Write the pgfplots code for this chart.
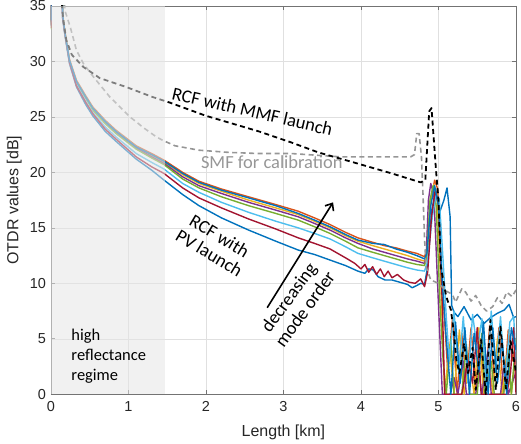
\documentclass[border=0pt]{standalone}
\usepackage{fontspec}
\setmainfont{Liberation Sans}
\newfontfamily\calfont{Carlito}
\usepackage{pgfplots}
\pgfplotsset{compat=1.18}
\usetikzlibrary{arrows.meta}
\definecolor{m1}{RGB}{0,114,189}
\definecolor{m2}{RGB}{217,83,25}
\definecolor{m3}{RGB}{237,177,32}
\definecolor{m4}{RGB}{126,47,142}
\definecolor{m5}{RGB}{119,172,48}
\definecolor{m6}{RGB}{77,190,238}
\definecolor{m7}{RGB}{162,20,47}
\definecolor{smfgray}{RGB}{150,150,150}
\begin{document}
\begin{tikzpicture}
\begin{axis}[
  scale only axis, width=466pt, height=389pt,
  xmin=0, xmax=6, ymin=0, ymax=35,
  xtick={0,1,2,3,4,5,6}, ytick={0,5,10,15,20,25,30,35},
  grid=major, grid style={black!12, line width=0.5pt},
  axis line style={black!55, line width=0.6pt},
  tick align=inside, major tick length=4pt, tick style={black!55, line width=0.6pt},
  ticklabel style={font=\fontsize{14.5}{16}\selectfont, text=black!85},
  xticklabel style={yshift=-4pt},
  yticklabel style={xshift=-1.5pt},
  /pgf/number format/assume math mode=true,
  xlabel={Length [km]}, ylabel={OTDR values [dB]},
  label style={font=\fontsize{16}{18}\selectfont, text=black!85},
  xlabel style={at={(axis description cs:0.5,-0.098)}, anchor=center},
  ylabel style={at={(axis description cs:-0.079,0.5)}, anchor=center},
  every axis plot/.append style={line width=1.4pt, line join=round},
]
% lower blue
\addplot[m1] coordinates {(0,33.2)(0.004,40)(0.13,40)(0.15,34)(0.18,32.4)(0.24,29.8)(0.33,27.7)(0.45,26.1)(0.54,25.1)(0.7,23.7)(0.84,22.8)(1.1,21.2)(1.3,20.2)(1.46,19.3)(1.7,18.0)(1.91,17.0)(2.2,15.9)(2.55,14.8)(2.9,13.8)(3.19,13.0)(3.4,12.6)(3.6,12.1)(3.8,11.6)(3.96,11.1)(4.05,10.9)(4.1,11.3)(4.16,11.2)(4.22,10.6)(4.31,10.3)(4.4,10.3)(4.5,10.1)(4.6,9.9)(4.66,9.6)(4.72,9.8)(4.77,10.0)(4.82,9.9)(4.86,11.5)(4.91,16.5)(4.96,18.2)(5.02,16.5)(5.07,17.5)(5.11,18.6)(5.15,16)(5.17,8)(5.2,7.4)(5.25,7.0)(5.33,7.9)(5.42,6.7)(5.5,7.2)(5.59,6.4)(5.67,6.9)(5.76,7.3)(5.85,7.6)(5.91,8.1)(5.97,6.9)(6,7.0)};
% orange
\addplot[m2] coordinates {(0,33.6)(0.004,40)(0.13,40)(0.155,34)(0.18,32.7)(0.24,30.2)(0.33,28.3)(0.45,26.9)(0.54,25.9)(0.7,24.7)(0.84,23.8)(1.1,22.4)(1.3,21.7)(1.46,21.1)(1.7,20.0)(1.91,19.2)(2.2,18.5)(2.55,17.8)(2.9,17.1)(3.19,16.5)(3.4,15.9)(3.6,15.3)(3.8,14.6)(3.96,14.1)(4.15,13.7)(4.3,13.4)(4.45,13.2)(4.6,12.9)(4.72,12.7)(4.82,12.4)(4.85,13)(4.9,17.5)(4.95,19.3)(4.99,18.5)(5.03,12)(5.08,6.5)(5.12,2)(5.18,6.8)(5.24,0)(5.3,5.5)(5.36,1)(5.42,6)(5.48,0.5)(5.54,5)(5.6,0)(5.66,6.2)(5.72,1.5)(5.78,6)(5.84,0)(5.9,5.8)(5.96,3)(6,5)};
% yellow
\addplot[m3] coordinates {(0,33.4)(0.004,40)(0.13,40)(0.155,34)(0.18,32.7)(0.24,30.1)(0.33,28.2)(0.45,26.8)(0.54,25.8)(0.7,24.6)(0.84,23.7)(1.1,22.3)(1.3,21.5)(1.46,20.9)(1.7,19.8)(1.91,19.0)(2.2,18.3)(2.55,17.5)(2.9,16.8)(3.19,16.2)(3.4,15.6)(3.6,15.0)(3.8,14.3)(3.96,13.8)(4.15,13.4)(4.3,13.1)(4.45,12.8)(4.6,12.5)(4.72,12.2)(4.82,12.0)(4.86,13)(4.9,17.5)(4.94,18.9)(4.98,18)(5.03,10)(5.08,0)(5.14,4.5)(5.2,0)(5.27,5.8)(5.33,0)(5.4,3)(5.46,0)(5.52,6)(5.58,0)(5.64,4)(5.7,0)(5.76,5)(5.82,0)(5.88,3.5)(5.94,0)(6,4)};
% purple
\addplot[m4] coordinates {(0,33.3)(0.004,40)(0.13,40)(0.155,34)(0.18,32.6)(0.24,30.0)(0.33,28.1)(0.45,26.7)(0.54,25.7)(0.7,24.5)(0.84,23.6)(1.1,22.2)(1.3,21.4)(1.46,20.8)(1.7,19.6)(1.91,18.8)(2.2,18.1)(2.55,17.3)(2.9,16.6)(3.19,16.0)(3.4,15.4)(3.6,14.8)(3.8,14.1)(3.96,13.6)(4.15,13.1)(4.3,12.8)(4.45,12.5)(4.6,12.2)(4.72,12.0)(4.82,11.8)(4.84,12.3)(4.87,17.5)(4.9,19.0)(4.94,18)(5.0,8)(5.05,0)(5.15,0)(5.2,1.5)(5.25,0)(5.32,3)(5.36,0)(5.48,0)(5.52,2)(5.56,0)(5.64,4)(5.68,0)(5.8,0)(5.85,3)(5.9,0)(6,2)};
% green
\addplot[m5] coordinates {(0,32.9)(0.004,40)(0.13,40)(0.155,34)(0.18,32.6)(0.24,30.0)(0.33,28.1)(0.45,26.7)(0.54,25.6)(0.7,24.4)(0.84,23.5)(1.1,22.1)(1.3,21.3)(1.46,20.7)(1.7,19.4)(1.91,18.6)(2.2,17.8)(2.55,17.0)(2.9,16.3)(3.19,15.7)(3.4,15.1)(3.6,14.5)(3.8,13.8)(3.96,13.2)(4.15,12.8)(4.3,12.5)(4.45,12.2)(4.6,11.9)(4.72,11.7)(4.82,11.6)(4.85,12.5)(4.89,17.5)(4.93,18.8)(4.97,17)(5.02,8)(5.06,3)(5.1,0)(5.16,5)(5.2,0)(5.3,0)(5.36,4.5)(5.4,0)(5.5,0)(5.56,5.5)(5.6,0)(5.68,3)(5.72,0)(5.84,0)(5.9,4)(5.94,0)(6,5)};
% light blue
\addplot[m6] coordinates {(0,33.5)(0.004,40)(0.13,40)(0.15,34)(0.18,32.5)(0.24,29.9)(0.33,27.9)(0.45,26.4)(0.54,25.4)(0.7,24.1)(0.84,23.2)(1.1,21.7)(1.3,20.9)(1.46,20.3)(1.7,19.0)(1.91,18.2)(2.2,17.3)(2.55,16.4)(2.9,15.6)(3.19,15.0)(3.4,14.5)(3.6,14.0)(3.8,13.3)(3.96,12.7)(4.15,12.3)(4.3,12.0)(4.45,11.7)(4.6,11.4)(4.72,11.2)(4.82,11.1)(4.86,12)(4.92,16)(4.97,18.0)(5.01,17.6)(5.06,12)(5.1,7)(5.14,3)(5.2,7.5)(5.26,2)(5.32,7)(5.38,1)(5.44,7.2)(5.5,4)(5.56,6.8)(5.62,0)(5.68,7.5)(5.74,2)(5.8,7)(5.86,1)(5.92,6.5)(5.97,7)(6,3)};
% red
\addplot[m7] coordinates {(0,33.0)(0.004,40)(0.13,40)(0.15,34)(0.18,32.5)(0.24,29.9)(0.33,27.8)(0.45,26.3)(0.54,25.3)(0.7,23.9)(0.84,23.0)(1.1,21.4)(1.3,20.5)(1.46,19.9)(1.7,18.6)(1.91,17.7)(2.2,16.8)(2.55,15.8)(2.9,14.9)(3.19,14.1)(3.4,13.6)(3.6,13.1)(3.8,12.3)(3.92,11.8)(4.0,11.3)(4.05,11.7)(4.1,11.0)(4.15,11.5)(4.2,10.8)(4.25,11.3)(4.3,10.6)(4.35,11.1)(4.4,10.5)(4.47,10.8)(4.55,10.3)(4.62,10.1)(4.7,10.0)(4.77,10.4)(4.82,9.7)(4.86,11)(4.91,16)(4.96,18.5)(5.0,17)(5.05,8)(5.08,0)(5.3,0)(5.38,3)(5.44,1)(5.5,6)(5.55,0)(5.88,0)(5.93,2)(5.97,6)(6,0)};
% upper blue
\addplot[m1] coordinates {(0,33.7)(0.004,40)(0.13,40)(0.155,34)(0.18,32.6)(0.24,30.1)(0.33,28.2)(0.45,26.8)(0.54,25.8)(0.7,24.6)(0.84,23.7)(1.1,22.3)(1.3,21.6)(1.46,21.0)(1.7,19.9)(1.91,19.1)(2.2,18.4)(2.55,17.7)(2.9,17.0)(3.19,16.3)(3.4,15.7)(3.6,15.1)(3.8,14.4)(3.96,13.9)(4.15,13.6)(4.3,13.5)(4.45,13.1)(4.6,12.8)(4.72,12.5)(4.82,12.2)(4.85,12.7)(4.9,17)(4.95,18.8)(5.0,17)(5.05,10)(5.1,5)(5.16,0)(5.22,6.5)(5.28,1)(5.34,6)(5.4,0)(5.46,5.5)(5.52,2)(5.58,6.5)(5.64,0)(5.7,6)(5.76,1)(5.82,5)(5.88,0)(5.94,6)(6,4)};
% SMF for calibration
\addplot[smfgray, line width=1.6pt, dash pattern=on 5pt off 3.5pt] coordinates {(0.17,36)(0.18,34.6)(0.25,33.1)(0.33,31.0)(0.42,29.8)(0.55,28.6)(0.76,26.8)(1.02,25.0)(1.2,24.0)(1.36,23.2)(1.44,22.9)(1.6,22.4)(1.91,22.0)(2.3,21.8)(2.68,21.7)(3.1,21.7)(3.74,21.4)(4.2,21.4)(4.64,21.4)(4.69,21.6)(4.72,23.5)(4.75,23.5)(4.78,21.4)(4.8,18)(4.82,14)(4.84,11.5)(4.9,10.3)(5.0,10.0)(5.1,9.3)(5.18,9.0)(5.22,8.3)(5.3,9.5)(5.35,9.2)(5.42,8.4)(5.48,8.9)(5.55,8.0)(5.62,7.5)(5.7,7.9)(5.76,8.7)(5.82,8.2)(5.88,9.2)(5.95,8.8)(6,9.4)};
% RCF with MMF launch
\addplot[black, line width=1.8pt, dash pattern=on 5pt off 3.5pt] coordinates {(0.13,36)(0.16,33.7)(0.2,31.9)(0.27,30.6)(0.42,29.5)(0.63,28.5)(0.97,27.7)(1.31,26.8)(1.53,26.3)(2.0,25.1)(2.68,23.7)(3.1,22.7)(3.45,21.8)(3.93,20.85)(4.4,19.9)(4.77,19.1)(4.83,19.3)(4.88,25.5)(4.91,25.8)(4.97,20)(5.0,17.5)(5.03,11.5)(5.1,8.8)(5.16,7.6)(5.2,5.5)(5.23,3.1)(5.27,1.9)(5.33,4.6)(5.38,1.9)(5.44,4.2)(5.48,0.4)(5.55,4.9)(5.61,0)(5.67,6.7)(5.74,0.4)(5.8,6.1)(5.87,0.5)(5.93,4.8)(6,2)};
% shaded high reflectance regime
\addplot[draw=none, fill=black!10, fill opacity=0.55] coordinates {(0,0)(1.47,0)(1.47,35)(0,35)} -- cycle;
% annotations
\node[font=\calfont\fontsize{18.5}{21}\selectfont, rotate=-13] at (axis cs:2.6,25.5) {RCF with MMF launch};
\node[font=\calfont\fontsize{18.5}{21}\selectfont, text=smfgray] at (axis cs:2.85,20.9) {SMF for calibration};
\node[font=\calfont\fontsize{18.5}{20}\selectfont, rotate=-31, align=center] at (axis cs:2.11,13.5) {RCF with\\PV launch};
\node[font=\calfont\fontsize{18.5}{20}\selectfont, rotate=54, align=center] at (axis cs:3.17,8.2) {decreasing\\mode order};
\node[font=\calfont\fontsize{16.5}{20}\selectfont, align=left, anchor=west] at (axis cs:0.22,3.4) {high\\reflectance\\regime};
\draw[-{Straight Barb[length=6pt,width=10pt]}, line width=1.6pt] (axis cs:2.79,7.8) -- (axis cs:3.64,17.3);
\end{axis}
\pgfresetboundingbox
\path[use as bounding box] ([shift={(-51pt,-49pt)}]current axis.south west) rectangle ([shift={(5pt,6pt)}]current axis.north east);
\end{tikzpicture}
\end{document}
